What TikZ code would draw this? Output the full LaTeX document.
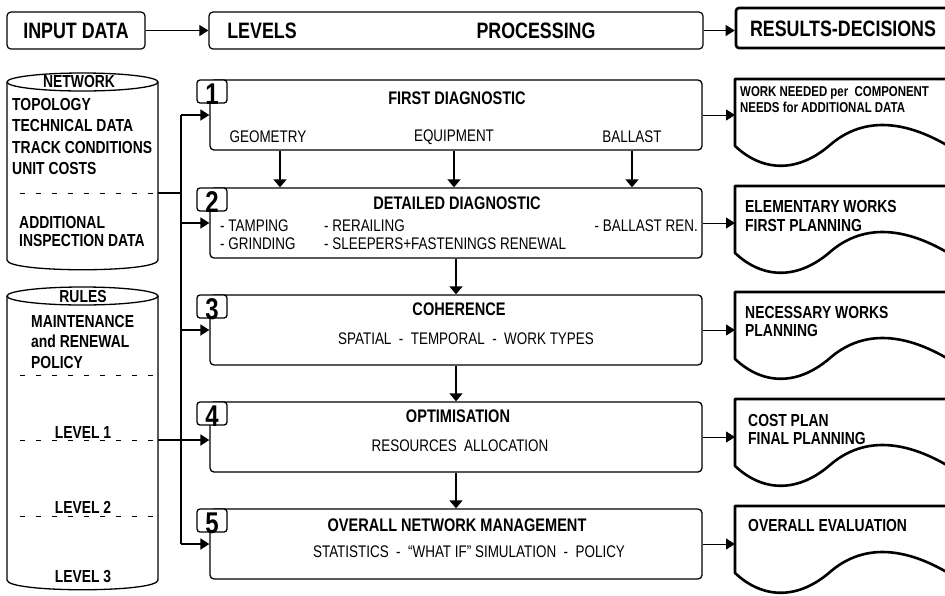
\documentclass[tikz,border=0pt]{standalone}
\usepackage{fontspec}
\setmainfont{Liberation Sans}[FakeStretch=0.8]
\usetikzlibrary{arrows.meta, positioning}

\begin{document}
\begin{tikzpicture}[x=1pt, y=-1pt, >={Triangle[length=9pt,width=11pt]},
  hbox/.style={draw, rounded corners=4pt, line width=1.2pt, minimum height=37pt, inner sep=0pt,
    font=\fontsize{22.3}{24}\selectfont\bfseries},
  htext/.style={inner sep=0pt, font=\fontsize{22.3}{24}\selectfont\bfseries},
  pbox/.style={draw, rounded corners=4pt, line width=1.3pt, minimum width=492pt, minimum height=70pt},
  tagbox/.style={draw, fill=white, rounded corners=3pt, line width=1.3pt, minimum width=30pt,
    minimum height=23pt, inner sep=0pt},
  num/.style={inner sep=0pt, font=\fontsize{30}{30}\selectfont\bfseries},
  ptitle/.style={inner sep=0pt, font=\fontsize{18.2}{20}\selectfont\bfseries},
  ptext/.style={inner sep=0pt, font=\fontsize{16.8}{18}\selectfont},
  ctext/.style={inner sep=0pt, align=left, font=\fontsize{17.4}{21.5}\selectfont\bfseries},
  dtext/.style={inner sep=0pt, align=left, anchor=west, font=\fontsize{17.4}{18.5}\selectfont\bfseries},
  cyl/.style={line width=1.3pt},
  dashline/.style={line width=1pt, dash pattern=on 5pt off 11pt},
  conn/.style={line width=1.8pt},
  thinarrow/.style={line width=1pt, ->},
  down/.style={line width=1.4pt, -{Triangle[length=8pt,width=13pt]}},
  doc/.style={line width=2.6pt, line join=round}]
\useasboundingbox (0,0) rectangle (945,595);

% top row
\node[hbox, minimum width=138pt] (inp) at (76,30.5) {INPUT DATA};
\node[hbox, minimum width=494pt] (lev) at (456,30.5) {};
\node[htext] (levt) at (262,31) {LEVELS};
\node[htext] (proc) at (536,31) {PROCESSING};
\node[hbox, line width=2.6pt, rounded corners=3pt, minimum width=216pt, minimum height=40pt] (res) at (844,28) {};
\node[htext] (rest) at (843,29) {RESULTS-DECISIONS};
\draw[thinarrow] (inp) -- (lev);
\draw[thinarrow] (lev.east) -- (lev.east -| res.west);

% network cylinder
\draw[cyl] (7,82) -- (7,260) .. controls (7,273) and (158,273) .. (158,260) -- (158,82);
\draw[cyl] (82.5,82) ellipse [x radius=75.5, y radius=9];
\node[ctext] (net) at (79,82) {NETWORK};
\node[ctext, anchor=west] (netd) at (12,136.5) {TOPOLOGY\\TECHNICAL DATA\\TRACK CONDITIONS\\UNIT COSTS};
\coordinate (neto) at (158,193);
\draw[dashline] (20,193) -- (neto);
\node[ctext, anchor=west, font=\fontsize{17.4}{18}\selectfont\bfseries] (addi) at (19,232) {ADDITIONAL\\INSPECTION DATA};

% rules cylinder
\draw[cyl] (7,296) -- (7,580) .. controls (7,593) and (158,593) .. (158,580) -- (158,296);
\draw[cyl] (82.5,296) ellipse [x radius=75.5, y radius=9];
\node[ctext] (rul) at (83,297) {RULES};
\node[ctext, anchor=west, font=\fontsize{17.4}{20.5}\selectfont\bfseries] (pol) at (31,342) {MAINTENANCE\\and RENEWAL\\POLICY};
\coordinate (lev1) at (158,440);
\draw[dashline] (20,375) -- (156,375);
\draw[dashline] (20,440) -- (lev1);
\draw[dashline] (20,516) -- (156,516);
\node[ctext] (l1) at (83,433) {LEVEL 1};
\node[ctext] (l2) at (83,507) {LEVEL 2};
\node[ctext] (l3) at (83,577) {LEVEL 3};

% processing boxes
\foreach \i/\t in {1/80,2/188,3/295,4/402,5/509}
{
    \node[pbox] (p\i) at (456,\t+35) {};
    \node[tagbox] (t\i) at (212,\t+11.5) {};
    \node[num] (n\i) at (212,\t+14) {\i};
}

\node[ptitle] (p1t) at (457,98) {FIRST DIAGNOSTIC};
\node[ptext] (geo) at (268,137) {GEOMETRY};
\node[ptext] (equ) at (454,137) {EQUIPMENT};
\node[ptext] (bal) at (632,137) {BALLAST};

\node[ptitle] (p2t) at (457,203) {DETAILED DIAGNOSTIC};
\node[ptext, anchor=west] (tam) at (220,226) {- TAMPING};
\node[ptext, anchor=west] (rer) at (324,226) {- RERAILING};
\node[ptext, anchor=east] (bre) at (698,226) {- BALLAST REN.};
\node[ptext, anchor=west] (gri) at (220,244) {- GRINDING};
\node[ptext, anchor=west] (sle) at (324,244) {- SLEEPERS+FASTENINGS RENEWAL};

\node[ptitle] (p3t) at (459,309) {COHERENCE};
\node[ptext] (p3s) at (466,339) {SPATIAL \ - \ TEMPORAL \ - \ WORK TYPES};

\node[ptitle] (p4t) at (458,416) {OPTIMISATION};
\node[ptext] (p4s) at (460,446) {RESOURCES \ ALLOCATION};

\node[ptitle] (p5t) at (457,525) {OVERALL NETWORK MANAGEMENT};
\node[ptext] (p5s) at (469,552) {STATISTICS \ - \ “WHAT IF” SIMULATION \ - \ POLICY};

% arrows between levels
\path (geo.south) ++(12pt,0) coordinate (ga);
\draw[down] (ga |- p1.south) -- (ga |- p2.north);
\draw[down] (equ |- p1.south) -- (equ |- p2.north);
\draw[down] (bal |- p1.south) -- (bal |- p2.north);
\draw[down] (p2.south) -- (p3.north);
\draw[down] (p3.south) -- (p4.north);
\draw[down] (p4.south) -- (p5.north);

% input bus
\coordinate (bus) at (181,0);
\draw[conn] (neto) -- (neto -| bus);
\draw[conn] (p1.west -| bus) -- (p5.west -| bus);
\foreach \i in {1,2,3,5}
    \draw[conn,->] (p\i.west -| bus) -- (p\i.west);
\draw[conn,->] (lev1) -- (lev1 -| p4.west);

% result documents
\foreach \i/\t in {1/79,2/186,3/292,4/399,5/506}
{
    \coordinate (d\i) at (735,\t);
    \draw[doc] (950,\t) -- (735,\t) -- (735,\t+67)
        .. controls (765,\t+95) and (800,\t+92) .. (830,\t+66)
        .. controls (860,\t+40) and (900,\t+38) .. (950,\t+68);
    \draw[thinarrow] (p\i.east) -- (p\i.east -| d\i);
}
\node[dtext, font=\fontsize{14.3}{16}\selectfont\bfseries] (r1) at (740,100) {WORK NEEDED per \ COMPONENT\\NEEDS for ADDITIONAL DATA};
\node[dtext] (r2) at (745,216) {ELEMENTARY WORKS\\FIRST PLANNING};
\node[dtext] (r3) at (745,321.5) {NECESSARY WORKS\\PLANNING};
\node[dtext] (r4) at (748,429.5) {COST PLAN\\FINAL PLANNING};
\node[dtext] (r5) at (748,526) {OVERALL EVALUATION};

\end{tikzpicture}
\end{document}
